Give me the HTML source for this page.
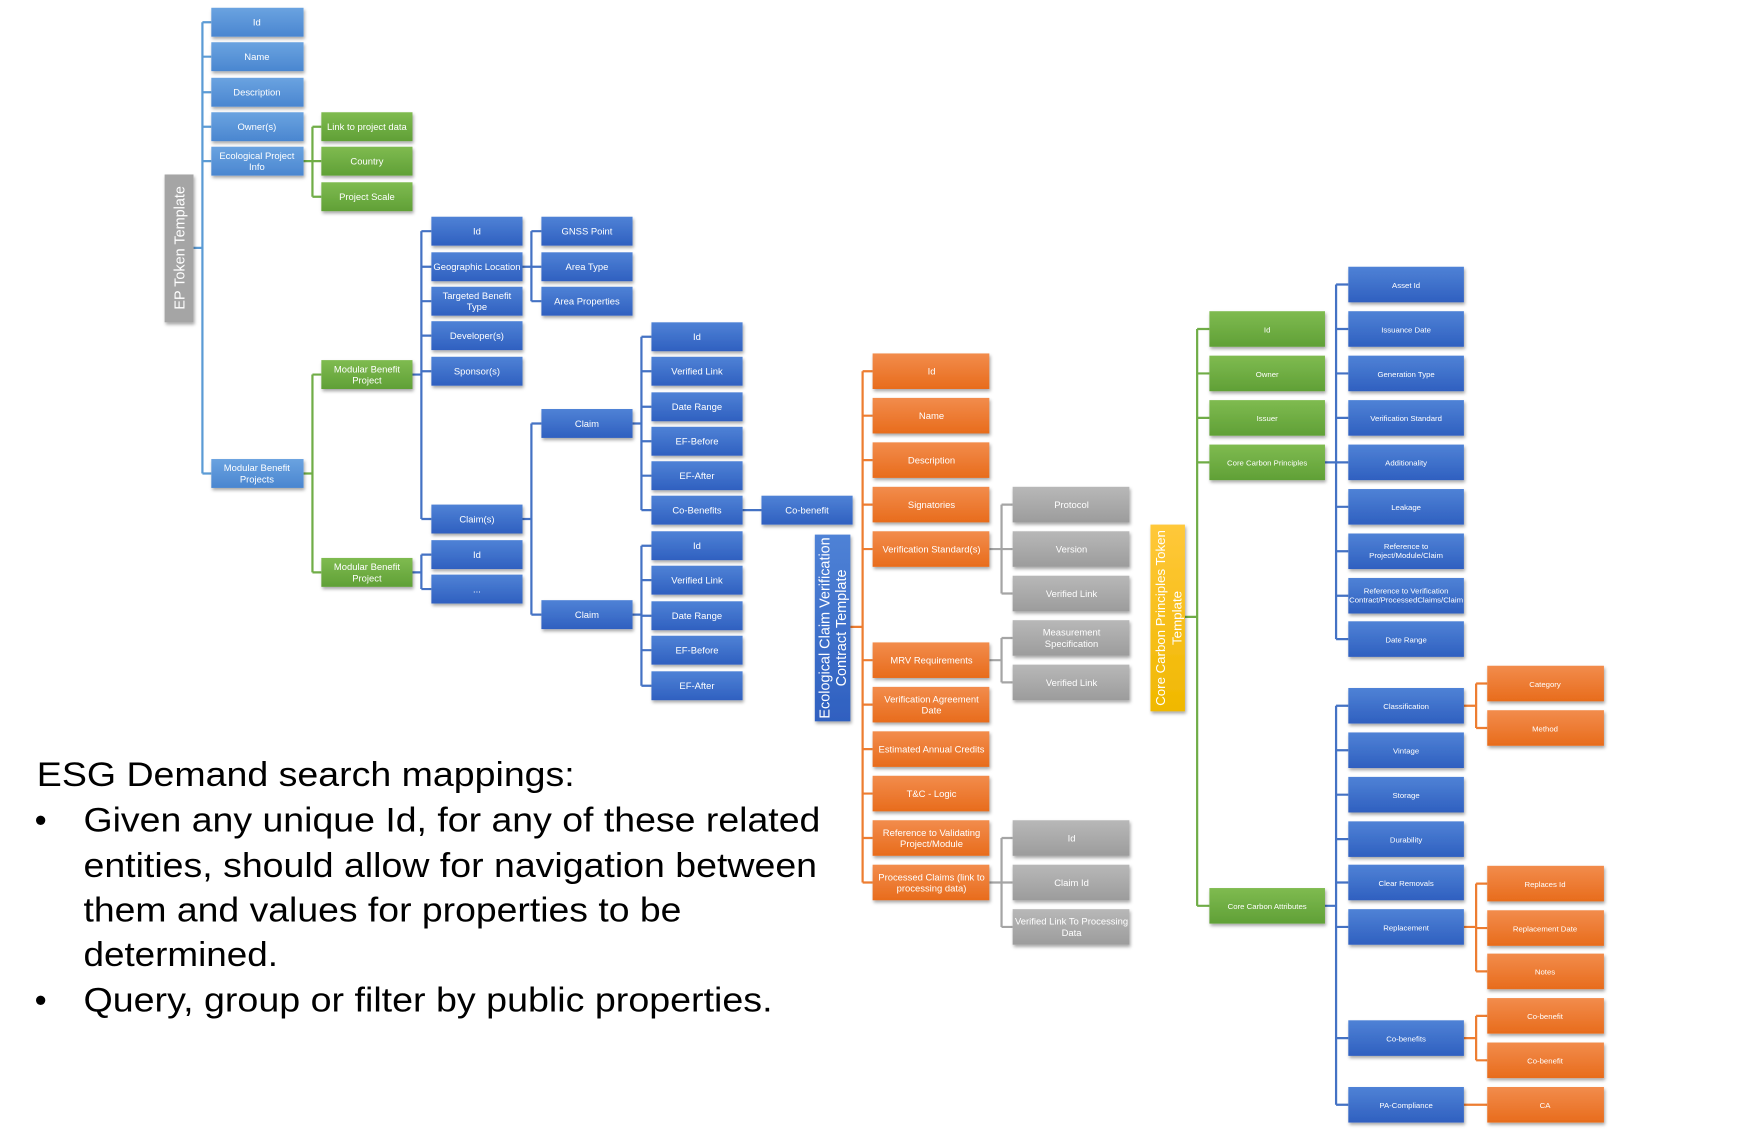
<!DOCTYPE html>
<html><head><meta charset="utf-8"><style>
html,body{margin:0;padding:0;background:#fff;}
svg{display:block}
text{font-family:"Liberation Sans",sans-serif;fill:#fff;text-anchor:middle;}
.s{font-size:8.5px}.xs{font-size:7px}.m{font-size:8.5px}
.big{font-family:"Liberation Sans",sans-serif;fill:#000;text-anchor:start;font-size:31px}
.bar{font-size:13px}
.bar2{font-size:12px}
</style></head><body>
<svg width="1743" height="1137" viewBox="0 0 1568 1023" xmlns="http://www.w3.org/2000/svg">
<defs>
<linearGradient id="lb" x1="0" y1="0" x2="0" y2="1"><stop offset="0" stop-color="#6aa3e0"/><stop offset="1" stop-color="#4a86d0"/></linearGradient>
<linearGradient id="b" x1="0" y1="0" x2="0" y2="1"><stop offset="0" stop-color="#4f82d6"/><stop offset="1" stop-color="#2f60c0"/></linearGradient>
<linearGradient id="o" x1="0" y1="0" x2="0" y2="1"><stop offset="0" stop-color="#f28c4c"/><stop offset="1" stop-color="#e86c1c"/></linearGradient>
<linearGradient id="g" x1="0" y1="0" x2="0" y2="1"><stop offset="0" stop-color="#7fbb50"/><stop offset="1" stop-color="#60a036"/></linearGradient>
<linearGradient id="gr" x1="0" y1="0" x2="0" y2="1"><stop offset="0" stop-color="#b8b8b8"/><stop offset="1" stop-color="#9c9c9c"/></linearGradient>
<linearGradient id="y" x1="0" y1="0" x2="0" y2="1"><stop offset="0" stop-color="#ffc83a"/><stop offset="1" stop-color="#f0b800"/></linearGradient>
<filter id="sh" x="-10%" y="-10%" width="130%" height="150%"><feDropShadow dx="1" dy="2" stdDeviation="1.5" flood-color="#000" flood-opacity="0.35"/></filter>
</defs>

<g fill="none" stroke-width="2">
<g stroke="#5b9bd5">
<path d="M174 223H182M182 20V426M182 20H190M182 51H190M182 83H190M182 114H190M182 145H190M182 426H190"/>
</g>
<g stroke="#70ad47">
<path d="M273 145H281M281 114V177M281 114H289M281 145H289M281 177H289"/>
<path d="M273 426H281M281 337V515M281 337H289M281 515H289"/>
</g>
<g stroke="#4472c4">
<path d="M371 337H379M379 208V467M379 208H388M379 240H388M379 271H388M379 302H388M379 334H388M379 467H388"/>
<path d="M371 515H379M379 499V530M379 499H388M379 530H388"/>
<path d="M470 240H478M478 208V271M478 208H487M478 240H487M478 271H487"/>
<path d="M470 467H478M478 381V553M478 381H487M478 553H487"/>
<path d="M569 381H577M577 303V459M577 303H586M577 334H586M577 366H586M577 397H586M577 428H586M577 459H586"/>
<path d="M569 553H577M577 491V617M577 491H586M577 522H586M577 554H586M577 585H586M577 617H586"/>
<path d="M668 459H685"/>
</g>
<g stroke="#ed7d31">
<path d="M765 564H776M776 334V794M776 334H785M776 374H785M776 414H785M776 454H785M776 494H785M776 594H785M776 634H785M776 674H785M776 714H785M776 754H785M776 794H785"/>
</g>
<g stroke="#a5a5a5">
<path d="M890 494H901M901 454V534M901 454H911M901 494H911M901 534H911"/>
<path d="M890 594H901M901 574V614M901 574H911M901 614H911"/>
<path d="M890 794H901M901 754V834M901 754H911M901 794H911M901 834H911"/>
</g>
<g stroke="#70ad47">
<path d="M1066 555H1077M1077 296V815M1077 296H1088M1077 336H1088M1077 376H1088M1077 416H1088M1077 815H1088"/>
</g>
<g stroke="#4472c4">
<path d="M1192 416H1202M1202 256V575M1202 256H1213M1202 296H1213M1202 336H1213M1202 376H1213M1202 416H1213M1202 456H1213M1202 496H1213M1202 536H1213M1202 575H1213"/>
<path d="M1192 815H1202M1202 635V994M1202 635H1213M1202 675H1213M1202 715H1213M1202 755H1213M1202 794H1213M1202 834H1213M1202 934H1213M1202 994H1213"/>
</g>
<g stroke="#ed7d31">
<path d="M1317 635H1328M1328 615V655M1328 615H1338M1328 655H1338"/>
<path d="M1317 834H1328M1328 795V874M1328 795H1338M1328 835H1338M1328 874H1338"/>
<path d="M1317 934H1328M1328 914V954M1328 914H1338M1328 954H1338"/>
<path d="M1317 994H1338"/>
</g>
</g>

<g filter="url(#sh)">
<rect x="148" y="157" width="26" height="133" fill="#a5a5a5"/>
<g fill="url(#lb)">
<rect x="190" y="7" width="83" height="26"/><rect x="190" y="38" width="83" height="26"/><rect x="190" y="70" width="83" height="26"/><rect x="190" y="101" width="83" height="26"/><rect x="190" y="132" width="83" height="26"/><rect x="190" y="413" width="83" height="26"/>
</g>
<g fill="url(#g)">
<rect x="289" y="101" width="82" height="26"/><rect x="289" y="132" width="82" height="26"/><rect x="289" y="164" width="82" height="26"/><rect x="289" y="324" width="82" height="26"/><rect x="289" y="502" width="82" height="26"/>
</g>
<g fill="url(#b)">
<rect x="388" y="195" width="82" height="26"/><rect x="388" y="227" width="82" height="26"/><rect x="388" y="258" width="82" height="26"/><rect x="388" y="289" width="82" height="26"/><rect x="388" y="321" width="82" height="26"/><rect x="388" y="454" width="82" height="26"/><rect x="388" y="486" width="82" height="26"/><rect x="388" y="517" width="82" height="26"/>
<rect x="487" y="195" width="82" height="26"/><rect x="487" y="227" width="82" height="26"/><rect x="487" y="258" width="82" height="26"/><rect x="487" y="368" width="82" height="26"/><rect x="487" y="540" width="82" height="26"/>
<rect x="586" y="290" width="82" height="26"/><rect x="586" y="321" width="82" height="26"/><rect x="586" y="353" width="82" height="26"/><rect x="586" y="384" width="82" height="26"/><rect x="586" y="415" width="82" height="26"/><rect x="586" y="446" width="82" height="26"/>
<rect x="586" y="478" width="82" height="26"/><rect x="586" y="509" width="82" height="26"/><rect x="586" y="541" width="82" height="26"/><rect x="586" y="572" width="82" height="26"/><rect x="586" y="604" width="82" height="26"/>
<rect x="685" y="446" width="82" height="26"/>
<rect x="733" y="481" width="32" height="168"/>
</g>
<g fill="url(#o)">
<rect x="785" y="318" width="105" height="32"/><rect x="785" y="358" width="105" height="32"/><rect x="785" y="398" width="105" height="32"/><rect x="785" y="438" width="105" height="32"/><rect x="785" y="478" width="105" height="32"/><rect x="785" y="578" width="105" height="32"/><rect x="785" y="618" width="105" height="32"/><rect x="785" y="658" width="105" height="32"/><rect x="785" y="698" width="105" height="32"/><rect x="785" y="738" width="105" height="32"/><rect x="785" y="778" width="105" height="32"/>
</g>
<g fill="url(#gr)">
<rect x="911" y="438" width="105" height="32"/><rect x="911" y="478" width="105" height="32"/><rect x="911" y="518" width="105" height="32"/><rect x="911" y="558" width="105" height="32"/><rect x="911" y="598" width="105" height="32"/><rect x="911" y="738" width="105" height="32"/><rect x="911" y="778" width="105" height="32"/><rect x="911" y="818" width="105" height="32"/>
</g>
<rect x="1035" y="472" width="31" height="168" fill="url(#y)"/>
<g fill="url(#g)">
<rect x="1088" y="280" width="104" height="32"/><rect x="1088" y="320" width="104" height="32"/><rect x="1088" y="360" width="104" height="32"/><rect x="1088" y="400" width="104" height="32"/><rect x="1088" y="799" width="104" height="32"/>
</g>
<g fill="url(#b)">
<rect x="1213" y="240" width="104" height="32"/><rect x="1213" y="280" width="104" height="32"/><rect x="1213" y="320" width="104" height="32"/><rect x="1213" y="360" width="104" height="32"/><rect x="1213" y="400" width="104" height="32"/><rect x="1213" y="440" width="104" height="32"/><rect x="1213" y="480" width="104" height="32"/><rect x="1213" y="520" width="104" height="32"/><rect x="1213" y="559" width="104" height="32"/>
<rect x="1213" y="619" width="104" height="32"/><rect x="1213" y="659" width="104" height="32"/><rect x="1213" y="699" width="104" height="32"/><rect x="1213" y="739" width="104" height="32"/><rect x="1213" y="778" width="104" height="32"/><rect x="1213" y="818" width="104" height="32"/><rect x="1213" y="918" width="104" height="32"/><rect x="1213" y="978" width="104" height="32"/>
</g>
<g fill="url(#o)">
<rect x="1338" y="599" width="105" height="32"/><rect x="1338" y="639" width="105" height="32"/><rect x="1338" y="779" width="105" height="32"/><rect x="1338" y="819" width="105" height="32"/><rect x="1338" y="858" width="105" height="32"/><rect x="1338" y="898" width="105" height="32"/><rect x="1338" y="938" width="105" height="32"/><rect x="1338" y="978" width="105" height="32"/>
</g>
</g>

<text class="bar" transform="translate(166 223) rotate(-90)">EP Token Template</text>
<text class="bar" transform="translate(746 565) rotate(-90)">Ecological Claim Verification</text>
<text class="bar" transform="translate(761 565) rotate(-90)">Contract Template</text>
<text class="bar2" transform="translate(1048 556) rotate(-90)" textLength="158" lengthAdjust="spacingAndGlyphs">Core Carbon  Principles Token</text>
<text class="bar2" transform="translate(1063 556) rotate(-90)">Template</text>

<g class="s">
<text x="231" y="23">Id</text><text x="231" y="54">Name</text><text x="231" y="86">Description</text><text x="231" y="117">Owner(s)</text>
<text x="231" y="143">Ecological  Project</text><text x="231" y="153">Info</text>
<text x="231" y="424">Modular  Benefit</text><text x="231" y="434">Projects</text>
<text x="330" y="117">Link  to  project  data</text><text x="330" y="148">Country</text><text x="330" y="180">Project  Scale</text>
<text x="330" y="335">Modular  Benefit</text><text x="330" y="345">Project</text>
<text x="330" y="513">Modular  Benefit</text><text x="330" y="523">Project</text>
<text x="429" y="211">Id</text><text x="429" y="243">Geographic  Location</text>
<text x="429" y="269">Targeted  Benefit</text><text x="429" y="279">Type</text>
<text x="429" y="305">Developer(s)</text><text x="429" y="337">Sponsor(s)</text><text x="429" y="470">Claim(s)</text><text x="429" y="502">Id</text><text x="429" y="533">...</text>
<text x="528" y="211">GNSS  Point</text><text x="528" y="243">Area  Type</text><text x="528" y="274">Area  Properties</text><text x="528" y="384">Claim</text><text x="528" y="556">Claim</text>
<text x="627" y="306">Id</text><text x="627" y="337">Verified  Link</text><text x="627" y="369">Date  Range</text><text x="627" y="400">EF-Before</text><text x="627" y="431">EF-After</text><text x="627" y="462">Co-Benefits</text>
<text x="627" y="494">Id</text><text x="627" y="525">Verified  Link</text><text x="627" y="557">Date  Range</text><text x="627" y="588">EF-Before</text><text x="627" y="620">EF-After</text>
<text x="726" y="462">Co-benefit</text>
<text x="838" y="337">Id</text><text x="838" y="377">Name</text><text x="838" y="417">Description</text><text x="838" y="457">Signatories</text><text x="838" y="497">Verification  Standard(s)</text>
<text x="838" y="597">MRV  Requirements</text>
<text x="838" y="632">Verification  Agreement</text><text x="838" y="642">Date</text>
<text x="838" y="677">Estimated  Annual  Credits</text><text x="838" y="717">T&amp;C - Logic</text>
<text x="838" y="752">Reference  to  Validating</text><text x="838" y="762">Project/Module</text>
<text x="838" y="792">Processed  Claims  (link  to</text><text x="838" y="802">processing  data)</text>
<text x="964" y="457">Protocol</text><text x="964" y="497">Version</text><text x="964" y="537">Verified  Link</text>
<text x="964" y="572">Measurement</text><text x="964" y="582">Specification</text><text x="964" y="617">Verified  Link</text>
<text x="964" y="757">Id</text><text x="964" y="797">Claim  Id</text>
<text x="964" y="832">Verified  Link  To  Processing</text><text x="964" y="842">Data</text>
</g>
<g class="xs">
<text x="1140" y="299">Id</text><text x="1140" y="339">Owner</text><text x="1140" y="379">Issuer</text><text x="1140" y="419">Core Carbon Principles</text><text x="1140" y="818">Core Carbon Attributes</text>
<text x="1265" y="259">Asset Id</text><text x="1265" y="299">Issuance  Date</text><text x="1265" y="339">Generation Type</text><text x="1265" y="379">Verification Standard</text><text x="1265" y="419">Additionality</text><text x="1265" y="459">Leakage</text>
<text x="1265" y="494">Reference  to</text><text x="1265" y="502">Project/Module/Claim</text>
<text x="1265" y="534">Reference  to Verification</text><text x="1265" y="542">Contract/ProcessedClaims/Claim</text>
<text x="1265" y="578">Date Range</text><text x="1265" y="638">Classification</text><text x="1265" y="678">Vintage</text><text x="1265" y="718">Storage</text><text x="1265" y="758">Durability</text><text x="1265" y="797">Clear Removals</text><text x="1265" y="837">Replacement</text><text x="1265" y="937">Co-benefits</text><text x="1265" y="997">PA-Compliance</text>
<text x="1390" y="618">Category</text><text x="1390" y="658">Method</text><text x="1390" y="798">Replaces  Id</text><text x="1390" y="838">Replacement  Date</text><text x="1390" y="877">Notes</text><text x="1390" y="917">Co-benefit</text><text x="1390" y="957">Co-benefit</text><text x="1390" y="997">CA</text>
</g>

<text class="big" x="33" y="707" textLength="484" lengthAdjust="spacingAndGlyphs">ESG Demand search mappings:</text>
<text class="big" x="31" y="748">•</text><text class="big" x="75" y="748" textLength="663" lengthAdjust="spacingAndGlyphs">Given any unique Id, for any of these related</text>
<text class="big" x="75" y="789" textLength="660" lengthAdjust="spacingAndGlyphs">entities, should allow for navigation between</text>
<text class="big" x="75" y="829" textLength="538" lengthAdjust="spacingAndGlyphs">them and values for properties to be</text>
<text class="big" x="75" y="869" textLength="175" lengthAdjust="spacingAndGlyphs">determined.</text>
<text class="big" x="31" y="910">•</text><text class="big" x="75" y="910" textLength="620" lengthAdjust="spacingAndGlyphs">Query, group or filter by public properties.</text>
</svg>
</body></html>
